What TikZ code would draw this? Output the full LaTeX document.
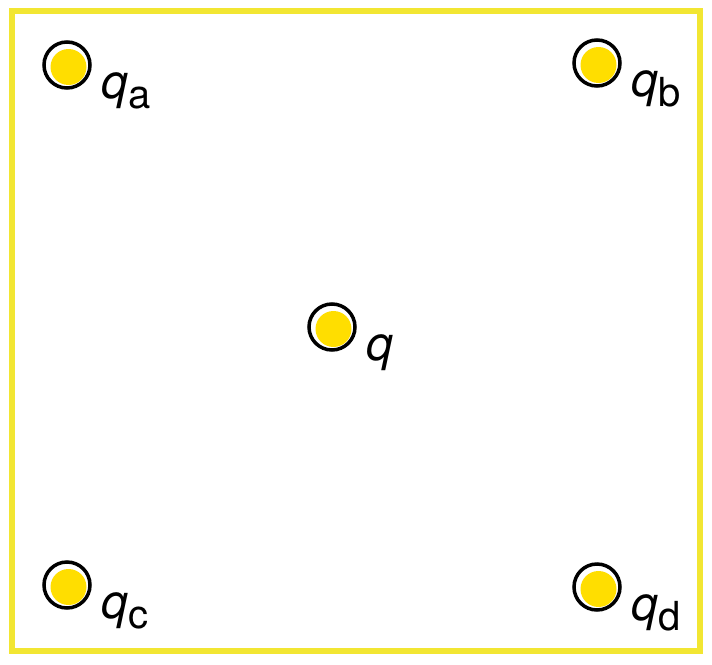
\documentclass[tikz,border=0pt]{standalone}
\usepackage{fontspec}
\setmainfont{TeX Gyre Heros}
\definecolor{frameyellow}{RGB}{242,230,50}
\definecolor{discyellow}{RGB}{255,222,0}
\begin{document}
\begin{tikzpicture}[x=1pt,y=-1pt,
  charge/.style={circle, draw=black, line width=3.5pt, minimum size=46pt, inner sep=0pt, fill=white,
    path picture={\fill[discyellow] ([shift={(1.5pt,-2pt)}]path picture bounding box.center) circle (18pt);}},
  lbl/.style={anchor=base west, inner sep=0pt, font=\fontsize{48}{50}\selectfont\itshape}]
\useasboundingbox (0,0) rectangle (712,664);
\fill[white] (0,0) rectangle (712,664);
\node[draw=frameyellow, line width=6pt, minimum width=688pt, minimum height=640pt, inner sep=0pt] (frame) at (356,331) {};
\node[charge] (ca) at (67,65) {};
\node[charge] (cb) at (597,63) {};
\node[charge] (cq) at (332,327) {};
\node[charge] (cc) at (67,585) {};
\node[charge] (cd) at (597,587) {};
\newcommand{\sub}[1]{\kern1pt\raisebox{-10pt}{\fontsize{40}{42}\selectfont\upshape #1}}
\node[lbl] (la) at ([shift={(34,33)}]ca.center) {q\sub{a}};
\node[lbl] (lb) at ([shift={(34,33)}]cb.center) {q\sub{b}};
\node[lbl] (lq) at ([shift={(34,33)}]cq.center) {q};
\node[lbl] (lc) at ([shift={(34,33)}]cc.center) {q\sub{c}};
\node[lbl] (ld) at ([shift={(34,33)}]cd.center) {q\sub{d}};
\end{tikzpicture}
\end{document}
